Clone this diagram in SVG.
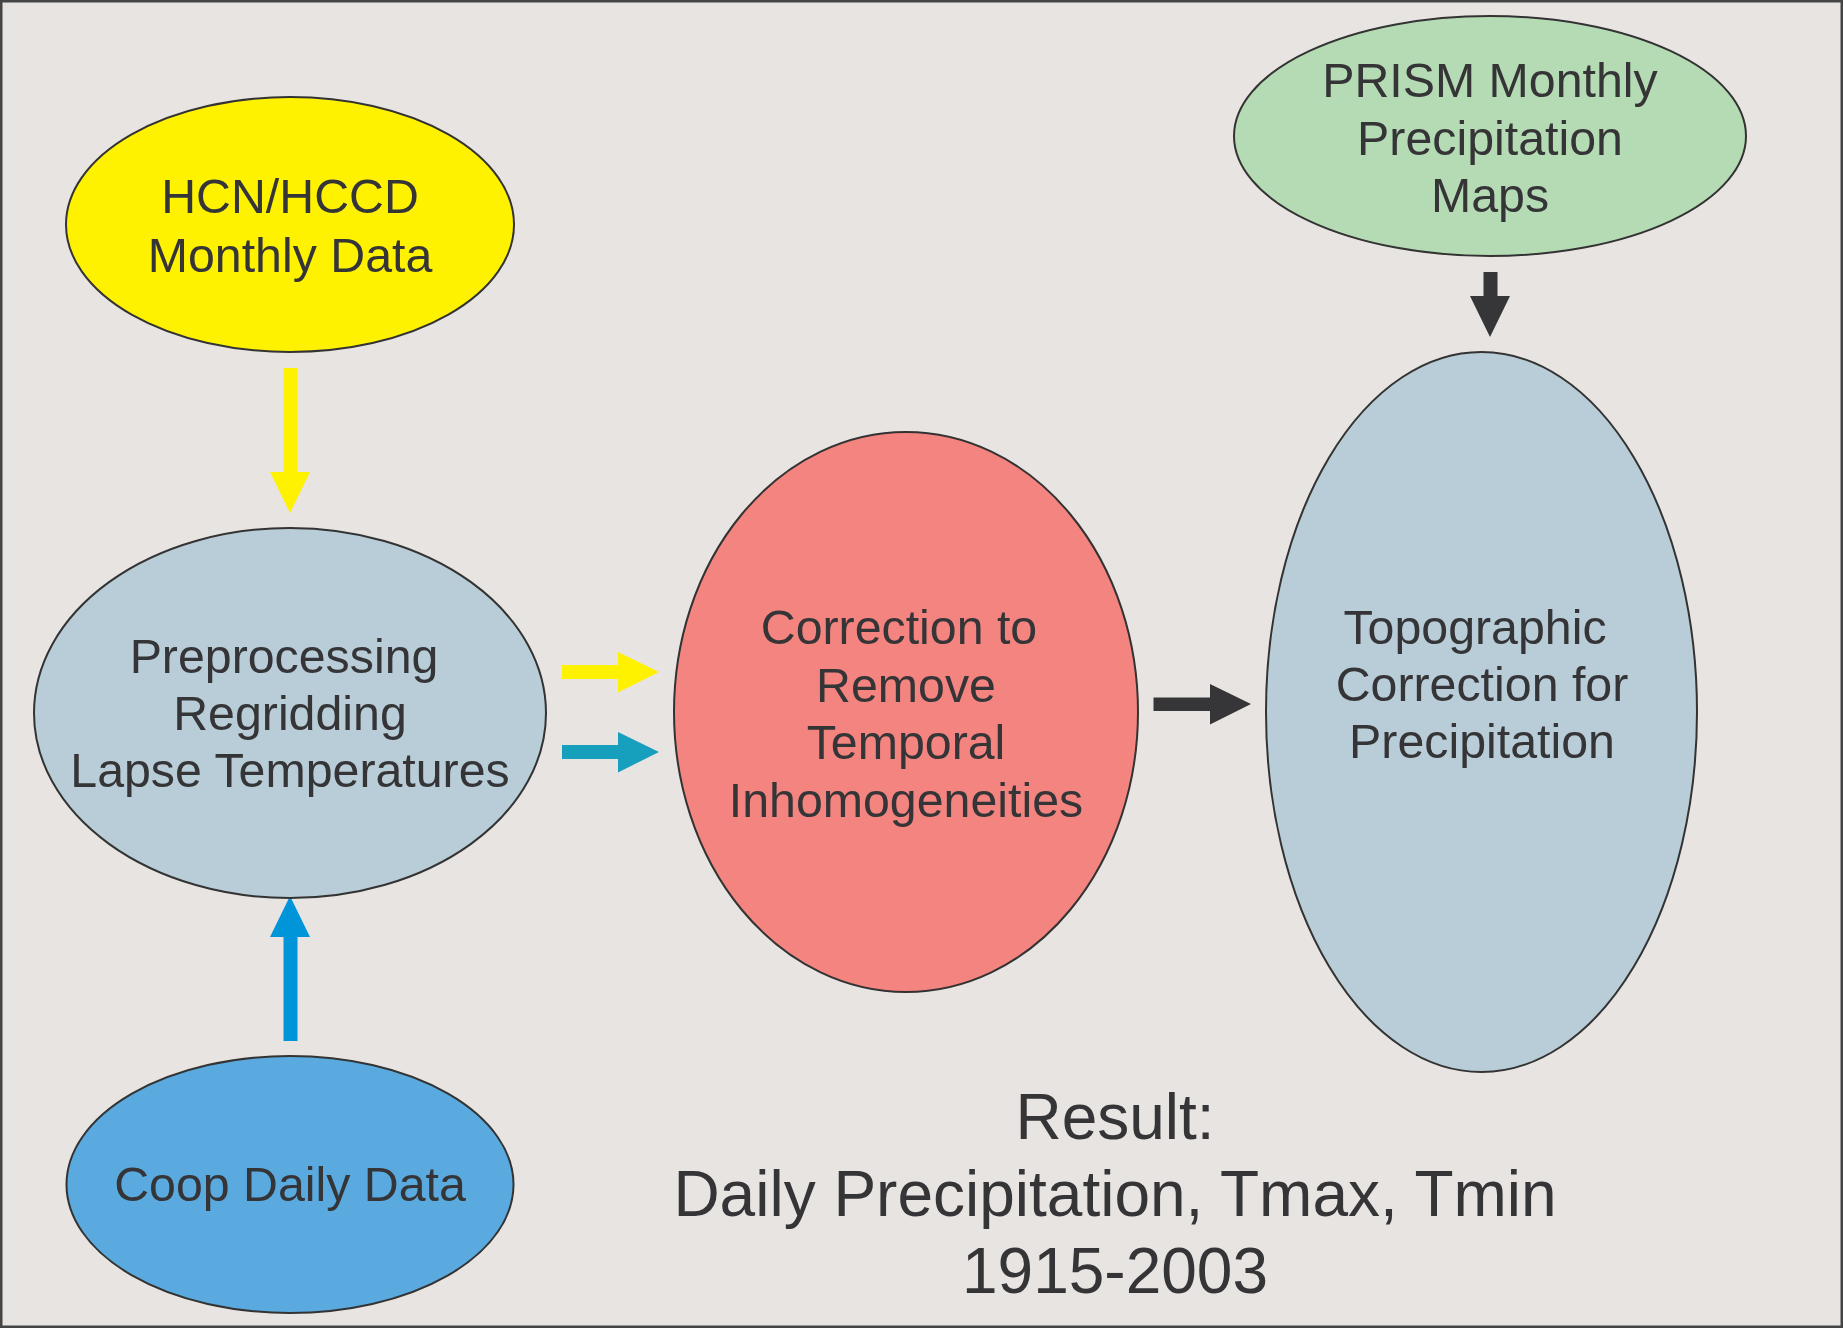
<svg xmlns="http://www.w3.org/2000/svg" width="1843" height="1328" viewBox="0 0 1843 1328">
<style>
.node{stroke:#333333;stroke-width:2}
.t{font-family:"Liberation Sans",Arial,sans-serif;font-size:48.3px;fill:#353437;text-anchor:middle}
.r{font-family:"Liberation Sans",Arial,sans-serif;font-size:64px;fill:#353437;text-anchor:middle}
</style>
<rect x="1.25" y="1.25" width="1840.5" height="1325.5" fill="#E8E4E1" stroke="#454545" stroke-width="2.5"/>
<g id="connectors">
<polygon fill="#FFF200" points="283.5,368 297.5,368 297.5,472 310,472 290,513 270,472 283.5,472"/>
<polygon fill="#FFF200" points="562,665 618,665 618,652 659,672 618,692.5 618,679 562,679"/>
<polygon fill="#179FBE" points="562,745 618,745 618,732 659,752 618,772.5 618,759 562,759"/>
<polygon fill="#363538" points="1153.5,697.5 1210,697.5 1210,684 1251,704 1210,724.5 1210,711 1153.5,711"/>
<polygon fill="#363538" points="1483.5,272 1497.5,272 1497.5,296 1510,296 1490,337 1470,296 1483.5,296"/>
<polygon fill="#0094D9" points="290,896 310,937 297.5,937 297.5,1041 283.5,1041 283.5,937 270,937"/>
</g>
<g id="hcn">
<ellipse class="node" cx="290" cy="224.5" rx="224" ry="127.5" fill="#FFF200"/>
<text class="t" x="290" y="213">HCN/HCCD</text>
<text class="t" x="290" y="271.5">Monthly Data</text>
</g>
<g id="prism">
<ellipse class="node" cx="1490" cy="136" rx="256" ry="120" fill="#B5DBB4"/>
<text class="t" x="1490" y="97">PRISM Monthly</text>
<text class="t" x="1490" y="155">Precipitation</text>
<text class="t" x="1490" y="212">Maps</text>
</g>
<g id="preprocessing">
<ellipse class="node" cx="290" cy="713" rx="256" ry="185" fill="#B8CDD8"/>
<text class="t" x="284" y="672.5">Preprocessing</text>
<text class="t" x="290" y="729.5">Regridding</text>
<text class="t" x="290" y="786.5">Lapse Temperatures</text>
</g>
<g id="correction">
<ellipse class="node" cx="906" cy="712" rx="232" ry="280" fill="#F4847F"/>
<text class="t" x="899" y="643.5">Correction to</text>
<text class="t" x="906" y="701.5">Remove</text>
<text class="t" x="906" y="758.5">Temporal</text>
<text class="t" x="906" y="816.5">Inhomogeneities</text>
</g>
<g id="topographic">
<ellipse class="node" cx="1481.5" cy="712" rx="215.5" ry="360" fill="#B8CDD8"/>
<text class="t" x="1475" y="644">Topographic</text>
<text class="t" x="1482" y="700.5">Correction for</text>
<text class="t" x="1482" y="757.5">Precipitation</text>
</g>
<g id="coop">
<ellipse class="node" cx="290" cy="1184.5" rx="223.5" ry="128.5" fill="#5AAADF"/>
<text class="t" x="290" y="1201">Coop Daily Data</text>
</g>
<g id="result">
<text class="r" x="1115" y="1139">Result:</text>
<text class="r" x="1115" y="1216">Daily Precipitation, Tmax, Tmin</text>
<text class="r" x="1115" y="1292.5">1915-2003</text>
</g>
</svg>
